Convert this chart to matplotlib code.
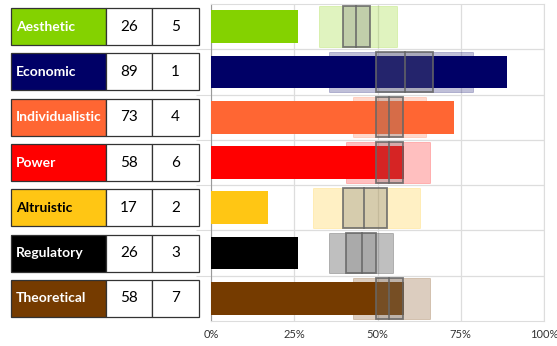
import matplotlib.pyplot as plt
from matplotlib.patches import Rectangle

plt.rcParams['font.family'] = ['Lato', 'DejaVu Sans']

categories = ["Aesthetic", "Economic", "Individualistic", "Power",
              "Altruistic", "Regulatory", "Theoretical"]
scores = [26, 89, 73, 58, 17, 26, 58]
ranks = [5, 1, 4, 6, 2, 3, 7]
colors = ["#84D200", "#000066", "#FF6633", "#FF0000",
          "#FFC614", "#000000", "#753B00"]
text_colors = ["white", "white", "white", "white", "black", "white", "white"]

# norm ranges (light box), quartiles and median (dark box)
range_lo = [32.5, 35.5, 42.7, 40.6, 30.5, 35.5, 42.7]
range_hi = [55.8, 78.7, 64.7, 65.8, 62.8, 54.7, 65.8]
q1 = [39.7, 49.6, 49.6, 49.6, 39.6, 40.5, 49.6]
q3 = [47.8, 66.8, 57.7, 57.7, 52.8, 49.6, 57.7]
median = [43.6, 58.4, 53.5, 53.5, 46.0, 45.2, 53.5]

W, H = 557, 346
fig = plt.figure(figsize=(W / 100, H / 100), dpi=100)
bottom, top = (H - 321) / H, (H - 4) / H

# chart
ax = fig.add_axes([211 / W, bottom, (544 - 211) / W, top - bottom])
n = len(categories)
rows = list(range(n))
box_h = 0.89
for i in rows:
    ax.add_patch(Rectangle((range_lo[i], i - box_h / 2), range_hi[i] - range_lo[i], box_h,
                           facecolor=colors[i], alpha=0.25, edgecolor=colors[i],
                           linewidth=0.6, zorder=2))
ax.barh(rows, scores, height=0.72, color=colors, zorder=3)
for i in rows:
    ax.add_patch(Rectangle((q1[i], i - box_h / 2), q3[i] - q1[i], box_h,
                           facecolor="#7a7a7a", alpha=0.3, edgecolor="none", zorder=4))
    ax.add_patch(Rectangle((q1[i], i - box_h / 2), q3[i] - q1[i], box_h,
                           facecolor="none", edgecolor="#666666", linewidth=1.3,
                           alpha=0.85, zorder=5))
    ax.plot([median[i], median[i]], [i - box_h / 2, i + box_h / 2],
            color="#666666", linewidth=1.3, alpha=0.85, zorder=5)

ax.set_xlim(0, 100)
ax.set_ylim(n - 0.5, -0.5)
ax.set_xticks([0, 25, 50, 75, 100])
ax.set_xticklabels(["0%", "25%", "50%", "75%", "100%"], fontsize=8, color="#333333")
ax.set_yticks([r + 0.5 for r in rows[:-1]])
ax.set_yticklabels([])
ax.tick_params(axis='y', length=11, color="#dddddd")
ax.tick_params(axis='x', length=0, pad=6)
ax.grid(True, color="#dddddd", linewidth=0.9, zorder=0)
ax.set_axisbelow(True)
for s in ["top", "right", "bottom"]:
    ax.spines[s].set_color("#dddddd")
ax.spines["left"].set_color("#999999")

# table on the left
tax = fig.add_axes([0, bottom, 211 / W, top - bottom])
tax.set_xlim(0, 211)
tax.set_ylim(n - 0.5, -0.5)
tax.axis("off")
cell_h = 0.82
for i in rows:
    y0 = i - cell_h / 2
    tax.add_patch(Rectangle((11, y0), 95, cell_h, facecolor=colors[i],
                            edgecolor="#333333", linewidth=0.9))
    tax.add_patch(Rectangle((106, y0), 46, cell_h, facecolor="white",
                            edgecolor="#333333", linewidth=0.9))
    tax.add_patch(Rectangle((152, y0), 47, cell_h, facecolor="white",
                            edgecolor="#333333", linewidth=0.9))
    tax.text(16, i, categories[i], color=text_colors[i], fontsize=10,
             fontweight="bold", va="center", ha="left")
    tax.text(129, i, str(scores[i]), fontsize=11, va="center", ha="center")
    tax.text(175.5, i, str(ranks[i]), fontsize=11, va="center", ha="center")

fig.savefig("out.png", dpi=100)
